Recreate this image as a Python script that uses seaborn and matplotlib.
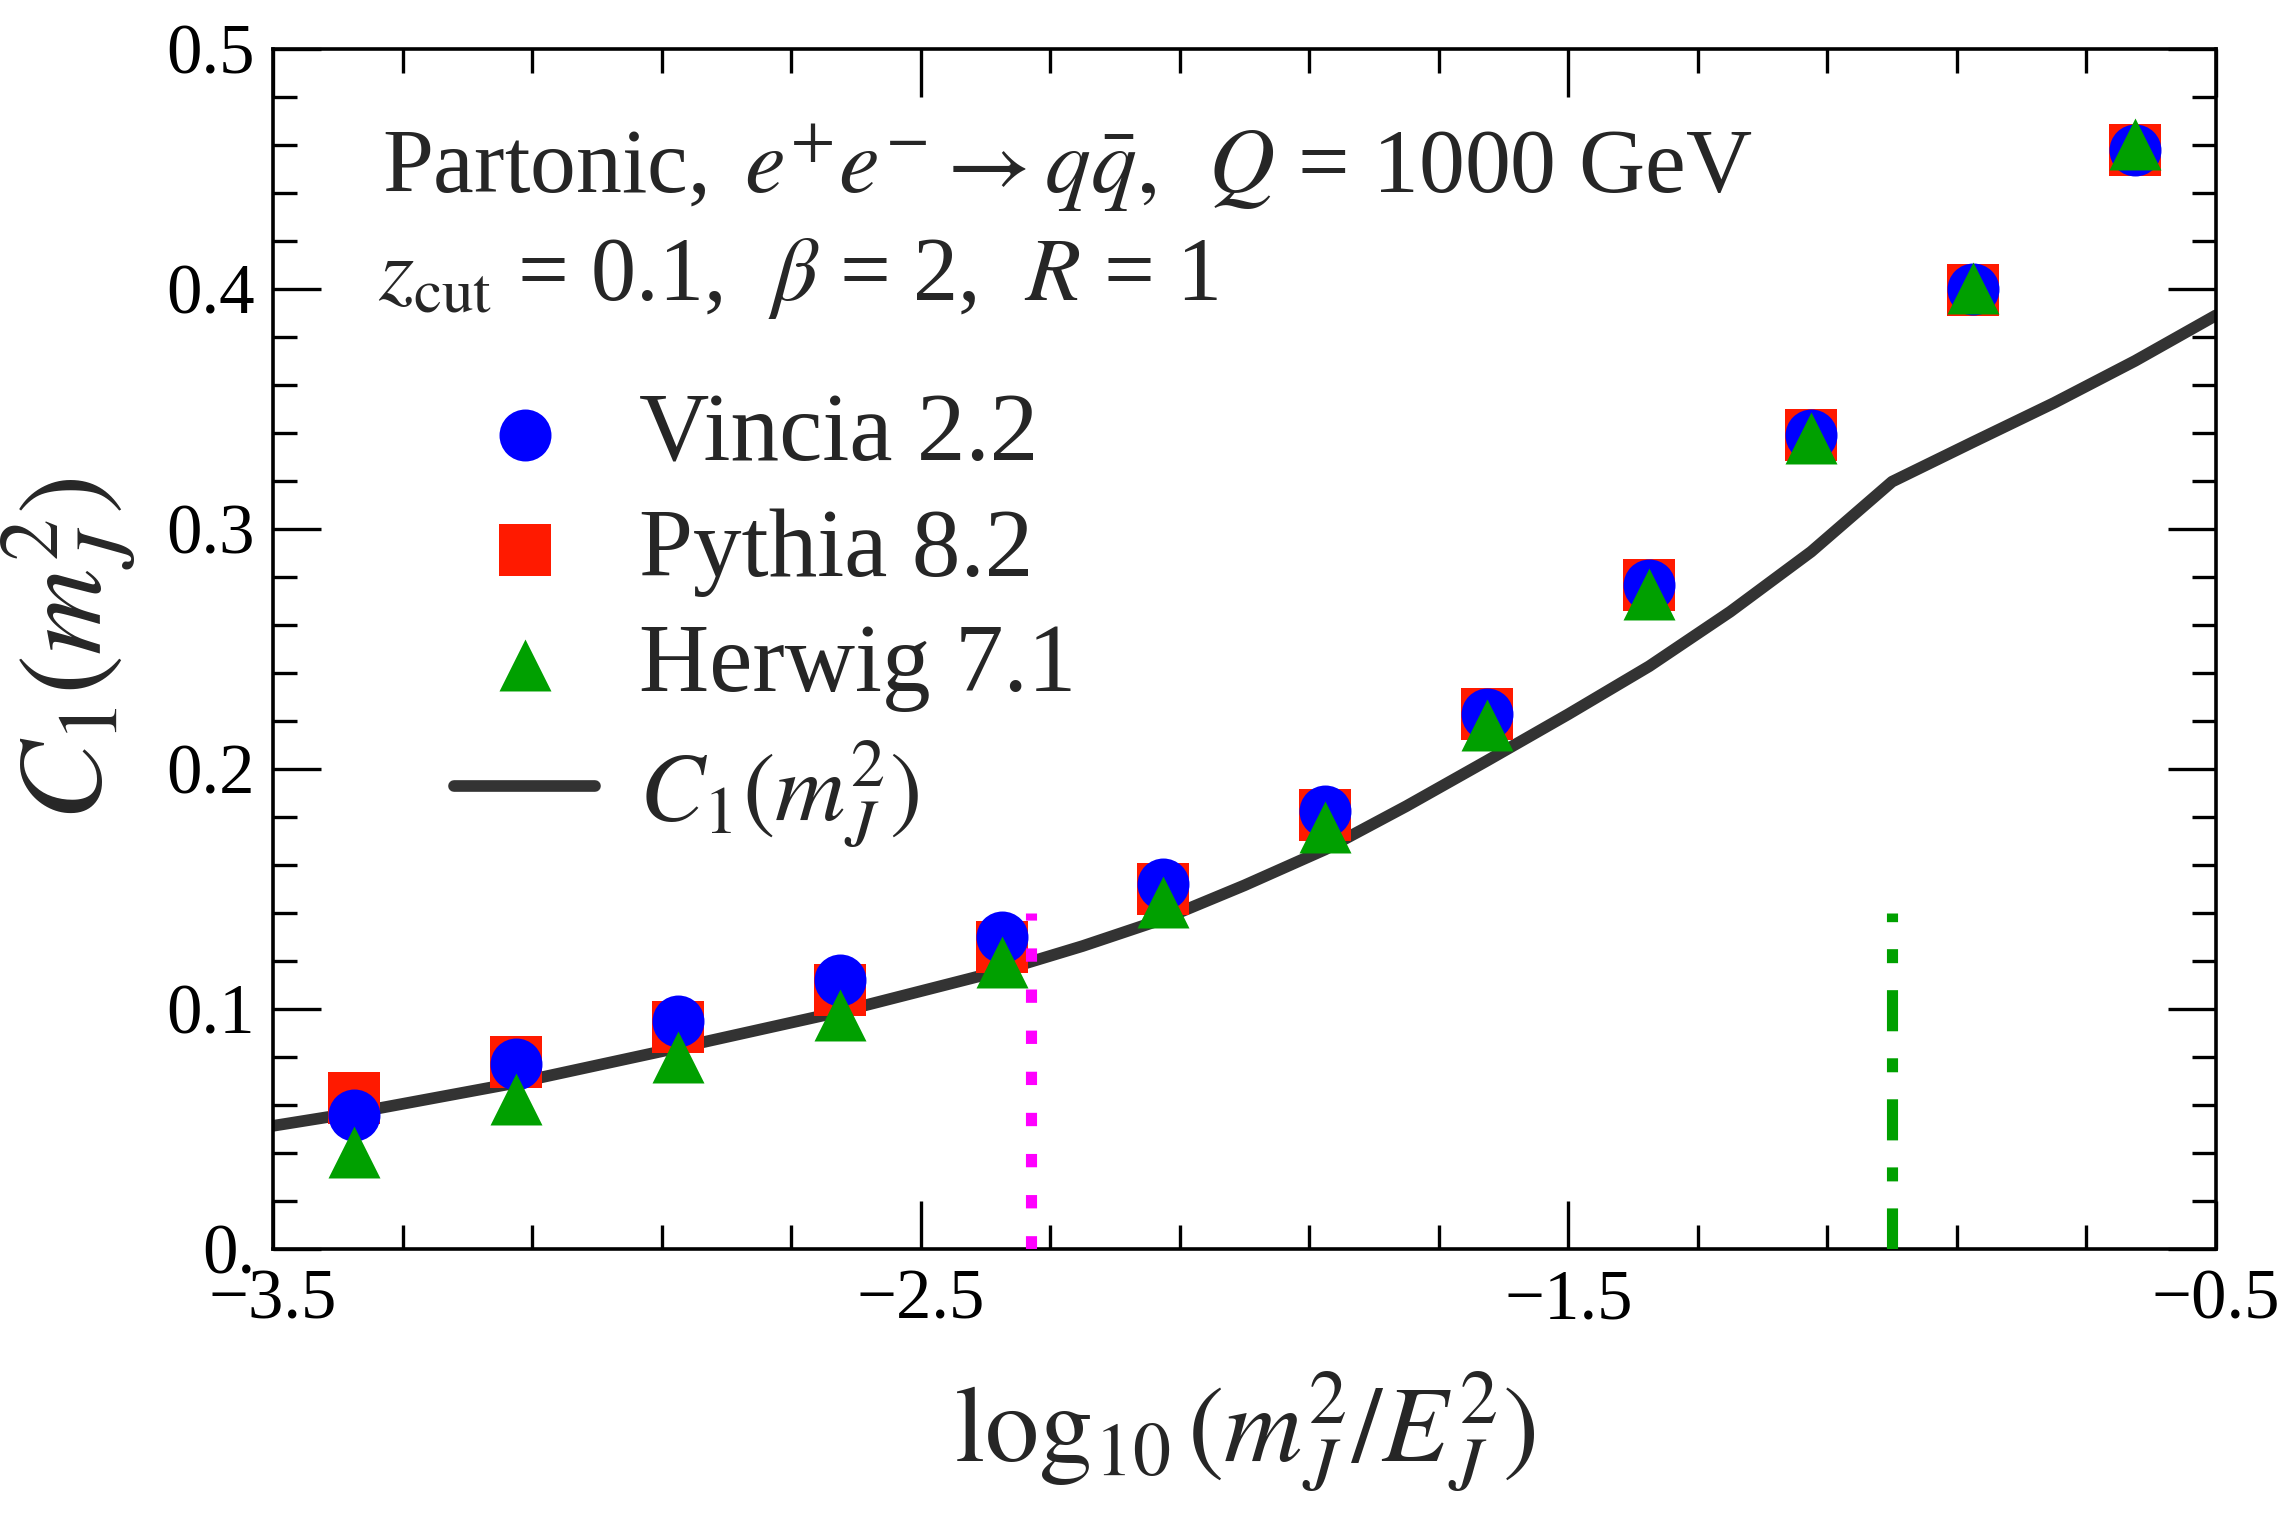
import numpy as np
import pandas as pd
import matplotlib
matplotlib.use("Agg")
import matplotlib.pyplot as plt
import seaborn as sns
from matplotlib.ticker import FixedLocator, FixedFormatter, MultipleLocator

# Shower results
log_m2 = [-3.375, -3.125, -2.875, -2.625, -2.375, -2.125,
          -1.875, -1.625, -1.375, -1.125, -0.875, -0.625]
vincia = [0.056, 0.077, 0.095, 0.112, 0.130, 0.152,
          0.1825, 0.223, 0.2765, 0.339, 0.400, 0.458]
pythia = [0.063, 0.078, 0.0925, 0.108, 0.126, 0.150,
          0.181, 0.223, 0.2765, 0.339, 0.3996, 0.458]
herwig = [0.0405, 0.0625, 0.080, 0.0976, 0.1195, 0.1447,
          0.176, 0.2183, 0.273, 0.338, 0.4003, 0.4605]

# C1 curve
curve_x = [-3.5, -3.375, -3.125, -2.875, -2.625, -2.375, -2.25, -2.125,
           -2.0, -1.875, -1.75, -1.625, -1.5, -1.375, -1.25, -1.125, -1.0,
           -0.875, -0.75, -0.625, -0.5]
curve_y = [0.0513, 0.0567, 0.0692, 0.0838, 0.0988, 0.116, 0.1262, 0.1375,
           0.1515, 0.1665, 0.1845, 0.2035, 0.2228, 0.2428, 0.2655, 0.2905, 0.3197,
           0.3362, 0.3525, 0.3700, 0.389]

# vertical markers (transition points)
ref_x = [-2.33, -1.0]
ref_top = 0.14

x_ticks = [-3.5, -2.5, -1.5, -0.5]
x_ticklabels = ["\u22123.5", "\u22122.5", "\u22121.5", "\u22120.5"]
y_ticks = [0.0, 0.1, 0.2, 0.3, 0.4, 0.5]
y_ticklabels = ["0.", "0.1", "0.2", "0.3", "0.4", "0.5"]

sns.set_theme(style="ticks")
plt.rcParams['font.family'] = ['Liberation Serif', 'DejaVu Serif']
plt.rcParams['mathtext.fontset'] = 'stix'
plt.rcParams['axes.edgecolor'] = 'black'
plt.rcParams['xtick.color'] = 'black'
plt.rcParams['ytick.color'] = 'black'

fig = plt.figure(figsize=(22.92, 15.15), dpi=100, facecolor='white')
ax = fig.add_axes([0.1191, 0.1756, 0.8477, 0.7921])

df = pd.DataFrame({"x": log_m2, "vincia": vincia, "pythia": pythia, "herwig": herwig})
msize = 1400

sns.lineplot(x=curve_x, y=curve_y, sort=False, estimator=None, color='#333333',
             linewidth=8.4, ax=ax, zorder=2, label=r"$C_1(m_J^2)$")
sns.scatterplot(data=df, x="x", y="pythia", marker='s', s=msize, color='#ff1a00',
                linewidth=0, ax=ax, zorder=3, label="Pythia 8.2")
sns.scatterplot(data=df, x="x", y="vincia", marker='o', s=msize, color='#0000ff',
                linewidth=0, ax=ax, zorder=4, label="Vincia 2.2")
sns.scatterplot(data=df, x="x", y="herwig", marker='^', s=msize, color='#00a000',
                linewidth=0, ax=ax, zorder=5, label="Herwig 7.1")

ax.plot([ref_x[0], ref_x[0]], [0, ref_top], color='#ff00ff', lw=8,
        dashes=(1.2, 2.5), zorder=6)
ax.plot([ref_x[1], ref_x[1]], [0, ref_top], color='#00a000', lw=8,
        dashes=(3.7, 2.43, 1.26, 2.43), zorder=6)

ax.set_xlim(-3.5, -0.5)
ax.set_ylim(0, 0.5)

ax.xaxis.set_major_locator(FixedLocator(x_ticks))
ax.xaxis.set_major_formatter(FixedFormatter(x_ticklabels))
ax.xaxis.set_minor_locator(MultipleLocator(0.2, offset=0.1))
ax.yaxis.set_major_locator(FixedLocator(y_ticks))
ax.yaxis.set_major_formatter(FixedFormatter(y_ticklabels))
ax.yaxis.set_minor_locator(MultipleLocator(0.02))

ax.tick_params(which='both', direction='in', top=True, right=True, width=2.4,
               labelsize=51)
ax.tick_params(which='major', length=34.5)
ax.tick_params(which='minor', length=17)
ax.tick_params(axis='x', pad=14)
ax.tick_params(axis='y', pad=13)
for sp in ax.spines.values():
    sp.set_linewidth(2.6)
    sp.set_color('black')

ax.set_xlabel(r"$\log_{10}(m_J^2/E_J^2)$", fontsize=78, labelpad=26)
ax.set_ylabel(r"$C_1(m_J^2)$", fontsize=86, labelpad=20)

ax.text(0.0561, 0.88, r"Partonic, $\,e^{+}e^{-}\rightarrow q\bar{q},\;\; Q$ = 1000 GeV",
        transform=ax.transAxes, fontsize=66, va='baseline')
ax.text(0.054, 0.7908, r"$z_{\rm cut}$ = 0.1,  $\beta$ = 2,  $R$ = 1",
        transform=ax.transAxes, fontsize=65, va='baseline')

handles, labels = ax.get_legend_handles_labels()
order = [labels.index(k) for k in ["Vincia 2.2", "Pythia 8.2", "Herwig 7.1", r"$C_1(m_J^2)$"]]
ax.legend([handles[i] for i in order], [labels[i] for i in order],
          loc='upper left', bbox_to_anchor=(0.0932, 0.714), frameon=False,
          fontsize=70, handlelength=1.45, handletextpad=0.45, labelspacing=0.27,
          borderpad=0, borderaxespad=0, scatterpoints=1)

fig.savefig("out.png", dpi=100, facecolor='white')
